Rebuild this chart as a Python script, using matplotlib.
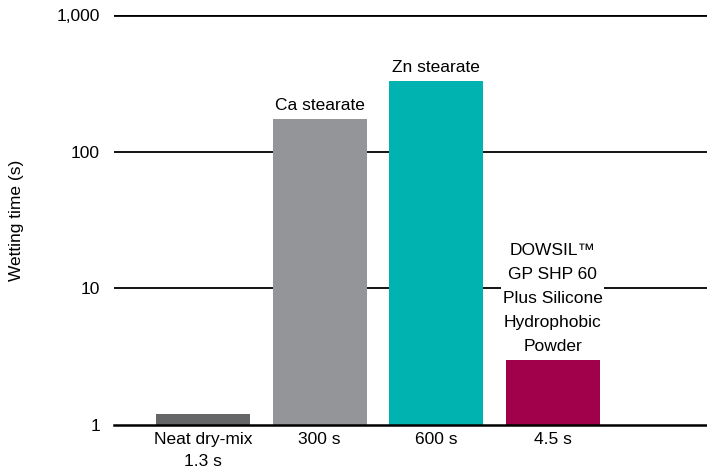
import matplotlib.pyplot as plt

plt.rcParams['font.family'] = ['Liberation Sans', 'DejaVu Sans']

# data
categorias = ["Neat dry-mix\n1.3 s", "300 s", "600 s", "4.5 s"]
rotulos = ["", "Ca stearate", "Zn stearate",
           "DOWSIL™\nGP SHP 60\nPlus Silicone\nHydrophobic\nPowder"]
tempos = [1.21, 173, 328, 2.97]
cores = ["#656668", "#939598", "#00b2b0", "#a1004b"]
yticks = [1, 10, 100, 1000]
yticklabels = ["1", "10", "100", "1,000"]

fs = 12.5

fig = plt.figure(figsize=(7.07, 4.71), dpi=100)
ax = fig.add_axes([114 / 707, 1 - 425 / 471, 1 - 114 / 707, (425 - 15) / 471])

x = range(len(tempos))
ax.set_yscale("log")
ax.set_ylim(1, 1000)
ax.set_xlim(-0.764, 4.326)

# linhas de grelha
for v in [10, 100]:
    ax.axhline(v, color="black", lw=1.3, zorder=0)
ax.axhline(1000, color="black", lw=2, zorder=0)

ax.bar(x, tempos, width=0.807, color=cores, zorder=2)

for i, (lab, v) in enumerate(zip(rotulos, tempos)):
    if lab:
        ax.annotate(lab, (i, v), xytext=(0, 4.5), textcoords="offset points",
                    ha="center", va="bottom", fontsize=fs, linespacing=1.75,
                    zorder=3,
                    bbox=dict(facecolor="white", edgecolor="none", pad=1))

for s in ["top", "right", "left"]:
    ax.spines[s].set_visible(False)
ax.spines["bottom"].set_linewidth(1.8)
ax.spines["bottom"].set_zorder(4)

ax.set_xticks(list(x))
ax.set_xticklabels(categorias, fontsize=fs, linespacing=1.55)
ax.set_yticks(yticks)
ax.set_yticklabels(yticklabels, fontsize=fs)
ax.minorticks_off()
ax.tick_params(axis="both", length=0)
ax.tick_params(axis="y", pad=10)
ax.tick_params(axis="x", pad=5)
ax.set_ylabel("Wetting time (s)", fontsize=fs)
ax.yaxis.set_label_coords(-0.152, 0.5)

fig.savefig("out.png", dpi=100)
